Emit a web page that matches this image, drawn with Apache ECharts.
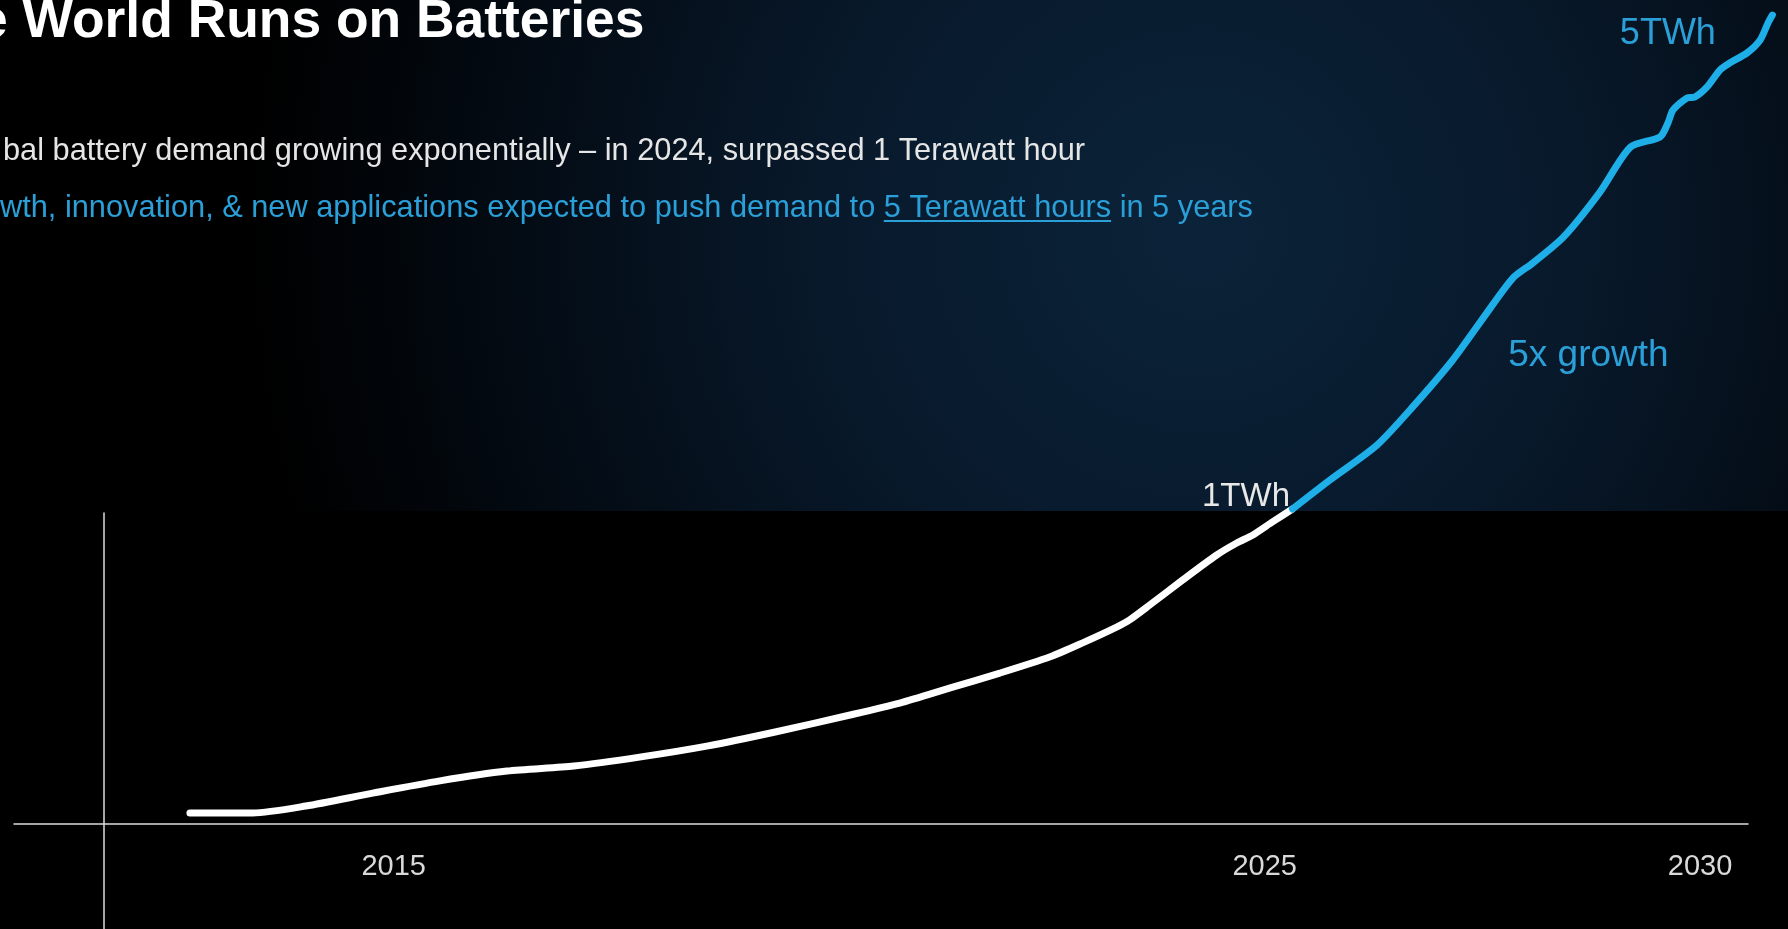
<!DOCTYPE html>
<html><head><meta charset="utf-8">
<script src="https://cdn.jsdelivr.net/npm/echarts@6/dist/echarts.min.js"></script>
<style>html,body{margin:0;padding:0;background:#000;overflow:hidden}#c{width:1788px;height:929px;}</style>
</head><body><div id="c"></div>
<script>
// ---- texts ----
const titleText = 'e World Runs on Batteries';
const subtitle1 = 'bal battery demand growing exponentially \u2013 in 2024, surpassed 1 Terawatt hour';
const subtitle2Pre = 'wth, innovation, & new applications expected to push demand to ';
const subtitle2Link = '5 Terawatt hours';
const subtitle2Post = ' in 5 years';
const labelNow = '1TWh';
const labelFuture = '5TWh';
const labelGrowth = '5x growth';
// ---- axis ----
const tickYears = [2015, 2025, 2030];
// ---- data (year, demand as drawn; 1 = the 1TWh point) ----
const historicalYears = [2012.66, 2013.38, 2013.99, 2014.76, 2015.53, 2016.30, 2017.07, 2017.84, 2018.61, 2019.38, 2020.24, 2020.81, 2021.39, 2021.96, 2022.53, 2022.91, 2023.30, 2023.45, 2023.68, 2024.06, 2024.45, 2024.68, 2024.86, 2025.09, 2025.32];
const historicalValues = [0.035, 0.035, 0.057, 0.098, 0.137, 0.168, 0.184, 0.213, 0.248, 0.292, 0.346, 0.384, 0.432, 0.479, 0.530, 0.575, 0.625, 0.648, 0.695, 0.775, 0.854, 0.892, 0.917, 0.959, 1.000];
const forecastYears = [2025.32, 2025.75, 2026.29, 2026.70, 2027.16, 2027.55, 2027.85, 2028.08, 2028.43, 2028.85, 2029.20, 2029.54, 2029.63, 2029.69, 2029.85, 2029.94, 2030.08, 2030.23, 2030.34, 2030.54, 2030.69, 2030.78, 2030.83];
const forecastValues = [1.000, 1.092, 1.203, 1.324, 1.473, 1.622, 1.733, 1.781, 1.863, 2.006, 2.149, 2.181, 2.225, 2.267, 2.305, 2.308, 2.340, 2.394, 2.416, 2.448, 2.489, 2.543, 2.568];

const WHITE = '#ffffff';
const BLUE = '#1eaee8';
const TEXT_BLUE = '#2a9fd8';
const FONT = '"Liberation Sans", Arial, sans-serif';

// axis scale: both grids share the same px-per-year
const axisMin = 2010.64, axisMax = 2030.55;   // drawn axis line span
const dataMax = 2030.92;                       // data grid extends a little further right
const pxPerYear = (1788 - 14 - 40) / (axisMax - axisMin);
const dataRight = 1788 - 14 - (dataMax - axisMin) * pxPerYear;

const chart = echarts.init(document.getElementById('c'), null, {renderer: 'canvas'});

const histData = historicalYears.map((y, i) => [y, historicalValues[i]]);
const foreData = forecastYears.map((y, i) => {
  const item = {value: [y, forecastValues[i]]};
  if (i === 0) {
    item.label = {show: true, formatter: labelNow, position: [-2, -12], align: 'right', verticalAlign: 'middle',
      color: '#e8e8e8', fontSize: 33, fontFamily: FONT};
  } else if (i === 4) {
    item.label = {show: true, formatter: labelGrowth, position: [56, -4], align: 'left', verticalAlign: 'middle',
      color: TEXT_BLUE, fontSize: 37, fontFamily: FONT};
  } else if (i === forecastYears.length - 1) {
    item.label = {show: true, formatter: labelFuture, position: [-56, 19], align: 'right', verticalAlign: 'middle',
      color: TEXT_BLUE, fontSize: 36, fontFamily: FONT};
  }
  return item;
});

// underline position for the "5 Terawatt hours" link
const SUB_SIZE = 30.75;
const mctx = document.createElement('canvas').getContext('2d');
mctx.font = SUB_SIZE + 'px ' + FONT;
const sub2X = 0;
const preW = mctx.measureText(subtitle2Pre).width;
const linkW = mctx.measureText(subtitle2Link).width;

const option = {
  backgroundColor: '#000000',
  animation: false,
  graphic: [
    {type: 'rect', z: -10, silent: true,
      shape: {x: 0, y: 0, width: 1788, height: 511},
      style: {fill: new echarts.graphic.RadialGradient(1200, 230, 950, [
        {offset: 0, color: '#0b2339'},
        {offset: 0.4, color: '#08192b'},
        {offset: 0.75, color: '#030a12'},
        {offset: 1, color: '#000000'}
      ], true)}},
    {type: 'text', x: -22, y: 22, z: 10,
      style: {text: titleText, font: 'bold 53.4px ' + FONT, fill: WHITE, verticalAlign: 'middle'}},
    {type: 'text', x: 3, y: 152, z: 10,
      style: {text: subtitle1, font: SUB_SIZE + 'px ' + FONT, fill: '#e6e6e6', verticalAlign: 'middle'}},
    {type: 'text', x: sub2X, y: 209, z: 10,
      style: {text: subtitle2Pre + subtitle2Link + subtitle2Post, font: SUB_SIZE + 'px ' + FONT, fill: TEXT_BLUE, verticalAlign: 'middle'}},
    {type: 'line', z: 10, silent: true,
      shape: {x1: sub2X + preW, y1: 221, x2: sub2X + preW + linkW, y2: 221},
      style: {stroke: TEXT_BLUE, lineWidth: 2}}
  ],
  grid: [
    {left: 14, right: dataRight, top: 5, bottom: 105, containLabel: false},
    {left: 104, width: 1, top: 513, bottom: 0, containLabel: false},
    {left: 14, right: 40, top: 5, bottom: 105, containLabel: false}
  ],
  xAxis: [
    {type: 'value', gridIndex: 0, min: axisMin, max: dataMax, show: false},
    {type: 'value', gridIndex: 1, show: false},
    {type: 'value', gridIndex: 2, min: axisMin, max: axisMax,
      axisLine: {show: true, onZero: false, lineStyle: {color: '#dcdcdc', width: 1.5}},
      axisTick: {show: false}, splitLine: {show: false},
      axisLabel: {show: true, customValues: tickYears, formatter: v => String(v),
        color: '#d9d9d9', fontSize: 29, fontFamily: FONT, margin: 28}}
  ],
  yAxis: [
    {type: 'value', gridIndex: 0, min: 0, max: 2.6, show: false},
    {type: 'value', gridIndex: 1, show: true,
      axisLine: {show: true, lineStyle: {color: '#dcdcdc', width: 1.5}},
      axisTick: {show: false}, axisLabel: {show: false}, splitLine: {show: false}},
    {type: 'value', gridIndex: 2, min: 0, max: 2.6, show: false}
  ],
  series: [
    {type: 'line', name: 'Historical', xAxisIndex: 0, yAxisIndex: 0, data: histData,
      smooth: 0.25, clip: false, showSymbol: false, symbol: 'none',
      lineStyle: {color: WHITE, width: 7, cap: 'round', join: 'round'}, z: 3},
    {type: 'line', name: 'Forecast', xAxisIndex: 0, yAxisIndex: 0, data: foreData,
      smooth: 0.25, clip: false, showSymbol: true, symbol: 'circle', symbolSize: 1,
      itemStyle: {color: 'rgba(0,0,0,0)', borderWidth: 0},
      lineStyle: {color: BLUE, width: 7, cap: 'round', join: 'round'}, z: 4}
  ]
};
chart.setOption(option);
</script>
</body></html>
